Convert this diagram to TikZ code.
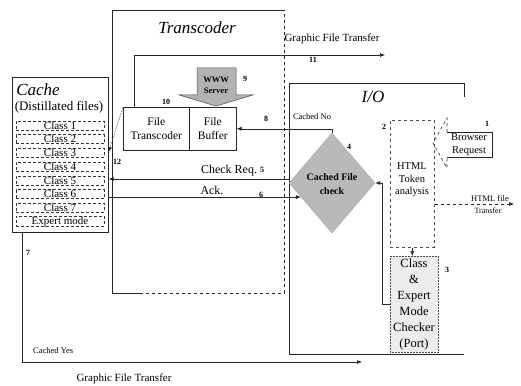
\documentclass[tikz,border=0pt]{standalone}
\usepackage{fontspec}
\setmainfont{Liberation Serif}
\usetikzlibrary{arrows.meta,calc,shapes.geometric}
\tikzset{
  ln/.style={draw=black!85, line width=0.6pt},
  arr/.style={ln, -{Latex[length=5pt,width=4pt]}},
  num/.style={inner sep=0, font=\fontsize{8}{9}\selectfont\bfseries},
  txt/.style={inner sep=0, align=center},
  classrow/.style={draw=black!80, line width=0.5pt, densely dashed, minimum width=88pt, minimum height=9pt, inner sep=0, font=\fontsize{11}{11}\selectfont},
  ttl/.style={inner sep=0, font=\fontsize{17}{18}\selectfont\itshape},
}
\begin{document}
\begin{tikzpicture}[x=1pt,y=-1pt]
\useasboundingbox (0,0) rectangle (521,385);
% ---------- Cache ----------
\node[draw=black!85, line width=0.6pt, anchor=north west, minimum width=96pt, minimum height=155pt, inner sep=0] (cache) at (12,77) {};
\node[ttl] (cachet) at (38,90) {Cache};
\node[txt, font=\fontsize{13}{14}\selectfont] (dist) at (59,107) {(Distillated files)};
\node[classrow] (c1) at (60,125.5) {Class 1};
\node[classrow] (c2) at (60,139.2) {Class 2};
\node[classrow] (c3) at (60,152.9) {Class 3};
\node[classrow] (c4) at (60,166.6) {Class 4};
\node[classrow] (c5) at (60,180.3) {Class 5};
\node[classrow] (c6) at (60,194) {Class 6};
\node[classrow] (c7) at (60,207.7) {Class 7};
\node[classrow] (cx) at (60,221.4) {Expert mode};
% ---------- Transcoder ----------
\draw[ln] (284,10) -- (112,10) -- (112,293) -- (140,293);
\draw[ln, dashed] (140,293) -- (284,293) -- (284,10);
\node[ttl] (transt) at (197,28) {Transcoder};
\node[draw=black!85, line width=0.6pt, anchor=north west, minimum width=66pt, minimum height=43pt, inner sep=0] (ft) at (123,107) {};
\node[draw=black!85, line width=0.6pt, anchor=north west, minimum width=47pt, minimum height=43pt, inner sep=0] (fb) at (189,107) {};
\node[txt, font=\fontsize{11.5}{14}\selectfont] at (ft) {File\\Transcoder};
\node[txt, font=\fontsize{11.5}{14}\selectfont] at (fb) {File\\Buffer};
% WWW Server block arrow
\draw[draw=black!70, fill=gray!60, line width=0.5pt] (197,68) -- (236,68) -- (236,95) -- (253,95) -- (216,106) -- (179,95) -- (197,95) -- cycle;
\node[txt, font=\fontsize{8.5}{11}\selectfont\bfseries] (www) at (216,85) {WWW\\Server};
% ---------- I/O ----------
\draw[ln] (464,97) -- (464,83) -- (289,83) -- (289,354) -- (464,354);
\node[ttl] (iot) at (373,97) {I/O};
\node[diamond, draw=gray!70, fill=gray!55, minimum width=86pt, minimum height=100pt, inner sep=0] (dia) at (332,183) {};
\node[txt, font=\fontsize{10}{14}\selectfont\bfseries] at (332,184) {Cached File\\check};
\node[draw=black!70, dashed, line width=0.5pt, anchor=north west, minimum width=44pt, minimum height=127pt, inner sep=0] (html) at (390,120) {};
\node[txt, font=\fontsize{10.5}{12.5}\selectfont] at (412,180) {HTML\\Token\\analysis};
\node[draw=black!70, densely dotted, fill=gray!15, line width=0.5pt, anchor=north west, minimum width=48pt, minimum height=96pt, inner sep=0] (chk) at (390,256) {};
\node[txt, font=\fontsize{12.5}{16}\selectfont] at (414,304) {Class\\\&\\Expert\\Mode\\Checker\\(Port)};
% Browser request callout
\draw[ln] (447,132) -- (492,132) -- (492,157) -- (447,157);
\draw[ln, dashed] (447,132) -- (447,118) -- (433,143) -- (447,168) -- (447,157);
\node[txt, font=\fontsize{10.5}{13}\selectfont] (br) at (469,145) {Browser\\Request};
% ---------- connectors ----------
\coordinate (t11) at (385,55);
\draw[arr] (134,107) |- (t11);
\node[txt, font=\fontsize{11}{12}\selectfont] at (332,39) {Graphic File Transfer};
\draw[arr] (dia.north) |- (fb.east);
\node[txt, font=\fontsize{8.5}{10}\selectfont] at (312,117) {Cached No};
\coordinate (crq) at (289,179);
\draw[arr] (crq) -- (cache.east |- crq);
\node[txt, font=\fontsize{12}{13}\selectfont] at (229,171) {Check Req.};
\coordinate (ackend) at ($(dia.west)!0.28!(dia.south)$);
\draw[arr] (cache.east |- ackend) -- (ackend);
\node[txt, font=\fontsize{12}{13}\selectfont] at (212,190) {Ack.};
\draw[arr, densely dotted] (ft.north west) -- (cache.east |- 0,152);
\draw[arr] (chk.west) -- ++(-8,0) |- (dia.east);
\draw[arr] (html.south) -- (html.south |- chk.north);
\coordinate (hf) at (514,204);
\draw[arr, dashed] (html.east |- hf) -- (hf);
\node[txt, font=\fontsize{8.5}{10}\selectfont] at (490,199) {HTML file};
\node[txt, font=\fontsize{8}{9}\selectfont] at (488,211) {Transfer};
\coordinate (cyb) at (22,232);
\coordinate (cy) at (362,362);
\draw[arr] (cyb) |- (cy);
\node[txt, font=\fontsize{8.5}{10}\selectfont, anchor=west] at (33,351) {Cached Yes};
\node[txt, font=\fontsize{11}{12}\selectfont] at (124,379) {Graphic File Transfer};
% ---------- numbers ----------
\node[num] at (487,124) {1};
\node[num] at (384,127) {2};
\node[num] at (447,270) {3};
\node[num] at (349,147) {4};
\node[num] at (262,170) {5};
\node[num] at (261,195) {6};
\node[num] at (28,253) {7};
\node[num] at (266,119) {8};
\node[num] at (245,79) {9};
\node[num] at (166,102) {10};
\node[num] at (313,60) {11};
\node[num] at (117,162) {12};
\end{tikzpicture}
\end{document}
